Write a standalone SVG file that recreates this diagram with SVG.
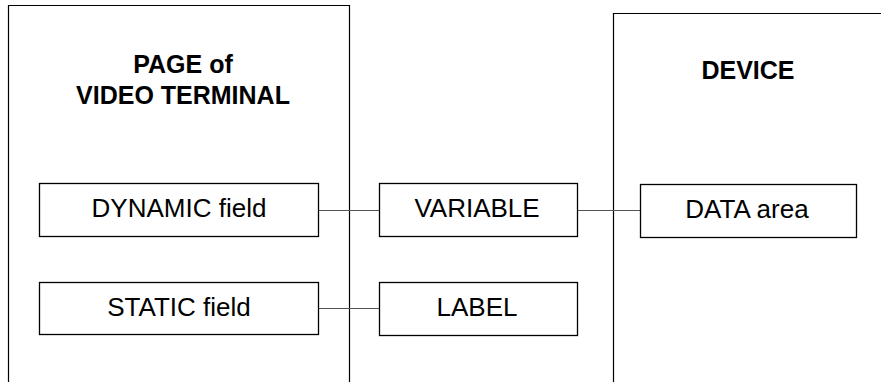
<svg xmlns="http://www.w3.org/2000/svg" width="881" height="382" viewBox="0 0 881 382">
  <style>
    .panel { fill: none; stroke: #000; stroke-width: 1.2; }
    .box { fill: #fff; stroke: #000; stroke-width: 1.3; }
    .wire { fill: none; stroke: #555; stroke-width: 1; }
    .title { font-family: "Liberation Sans", Arial, sans-serif; font-weight: bold; font-size: 25px; text-anchor: middle; fill: #000; }
    .lbl { font-family: "Liberation Sans", Arial, sans-serif; font-size: 26px; text-anchor: middle; fill: #000; }
  </style>
  <rect width="881" height="382" fill="#fff"/>

  <!-- open-bottom panels -->
  <g id="page-panel">
    <path class="panel" d="M8.5,382 V5.5 H349.5 V382"/>
    <text class="title" x="183" y="73">PAGE of</text>
    <text class="title" x="183" y="104">VIDEO TERMINAL</text>
  </g>
  <g id="device-panel">
    <path class="panel" d="M613.5,382 V13.5 H881"/>
    <text class="title" x="748" y="79">DEVICE</text>
  </g>

  <!-- connectors -->
  <g id="connectors">
    <line class="wire" x1="318" y1="210.5" x2="379" y2="210.5"/>
    <line class="wire" x1="577" y1="210.5" x2="640" y2="210.5"/>
    <line class="wire" x1="318" y1="308.5" x2="379" y2="308.5"/>
  </g>

  <g id="dynamic-field">
    <rect class="box" x="39.5" y="183.5" width="279" height="53"/>
    <text class="lbl" x="179" y="217">DYNAMIC field</text>
  </g>
  <g id="static-field">
    <rect class="box" x="39.5" y="282.5" width="279" height="52"/>
    <text class="lbl" x="179" y="316">STATIC field</text>
  </g>
  <g id="variable">
    <rect class="box" x="379.5" y="183.5" width="198" height="53"/>
    <text class="lbl" x="477" y="217">VARIABLE</text>
  </g>
  <g id="label">
    <rect class="box" x="379.5" y="282.5" width="198" height="53"/>
    <text class="lbl" x="477" y="316">LABEL</text>
  </g>
  <g id="data-area">
    <rect class="box" x="640.5" y="184.5" width="216" height="53"/>
    <text class="lbl" x="747" y="218">DATA area</text>
  </g>
</svg>
